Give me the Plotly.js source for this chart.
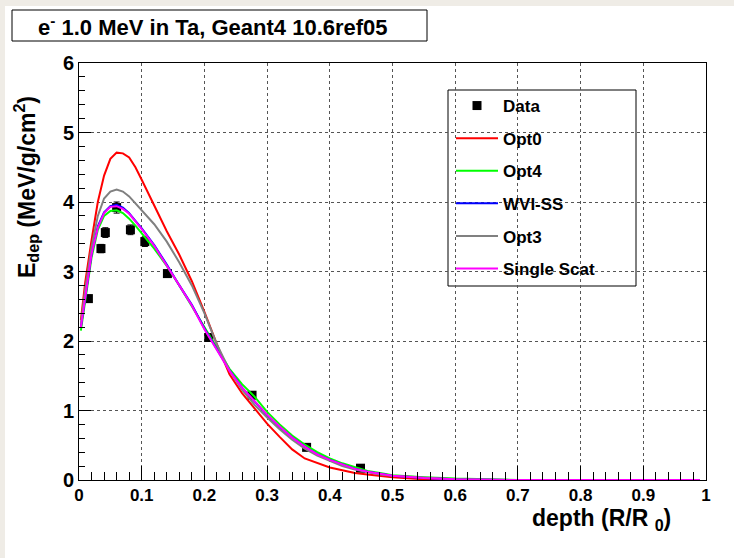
<!DOCTYPE html>
<html>
<head>
<meta charset="utf-8">
<script src="https://cdn.plot.ly/plotly-3.0.1.min.js"></script>
<style>
  html, body { margin: 0; padding: 0; background: #efece6; width: 734px; height: 558px; overflow: hidden; }
  #chart { position: absolute; left: 5px; top: 6px; width: 729px; height: 552px; }
</style>
</head>
<body>
<div id="chart"></div>
<script>
// ---- Data ----
const dataX   = [0.015, 0.035, 0.042, 0.060, 0.082, 0.105, 0.141, 0.207, 0.276, 0.363, 0.449];
const dataY   = [2.61, 3.33, 3.56, 3.92, 3.60, 3.43, 2.97, 2.05, 1.22, 0.47, 0.17];
const dataErr = [0.05, 0.06, 0.07, 0.08, 0.07, 0.07, 0.05, 0.05, 0.04, 0.03, 0.02];

const simX = [0.003, 0.01, 0.02, 0.03, 0.04, 0.05, 0.06, 0.07, 0.08, 0.09, 0.10,
              0.12, 0.14, 0.16, 0.18, 0.20, 0.22, 0.24, 0.26, 0.28, 0.30,
              0.32, 0.34, 0.36, 0.38, 0.40, 0.42, 0.44, 0.46, 0.48, 0.50,
              0.55, 0.60, 0.70, 0.80, 0.90, 0.99];
const opt0  = [2.30, 2.85, 3.45, 4.00, 4.38, 4.62, 4.71, 4.70, 4.64, 4.50, 4.32,
               3.95, 3.58, 3.24, 2.86, 2.42, 1.95, 1.52, 1.25, 1.03, 0.81,
               0.62, 0.44, 0.31, 0.24, 0.18, 0.14, 0.10, 0.08, 0.06, 0.04,
               0.01, 0.00, 0.00, 0.00, 0.00, 0.00];
const opt4  = [2.15, 2.60, 3.20, 3.60, 3.80, 3.87, 3.88, 3.84, 3.76, 3.66, 3.55,
               3.33, 3.08, 2.80, 2.50, 2.20, 1.90, 1.60, 1.38, 1.20, 0.98,
               0.80, 0.64, 0.51, 0.40, 0.31, 0.24, 0.18, 0.13, 0.10, 0.07,
               0.04, 0.02, 0.00, 0.00, 0.00, 0.00];
const wvi   = [2.20, 2.65, 3.25, 3.65, 3.85, 3.94, 3.96, 3.92, 3.84, 3.73, 3.62,
               3.38, 3.10, 2.80, 2.52, 2.18, 1.88, 1.58, 1.33, 1.13, 0.93,
               0.76, 0.61, 0.48, 0.37, 0.29, 0.22, 0.16, 0.12, 0.09, 0.06,
               0.03, 0.01, 0.00, 0.00, 0.00, 0.00];
const opt3  = [2.25, 2.75, 3.35, 3.80, 4.05, 4.15, 4.18, 4.15, 4.08, 3.98, 3.88,
               3.68, 3.43, 3.13, 2.80, 2.40, 1.95, 1.58, 1.30, 1.08, 0.90,
               0.73, 0.58, 0.45, 0.35, 0.27, 0.20, 0.15, 0.11, 0.08, 0.06,
               0.03, 0.01, 0.00, 0.00, 0.00, 0.00];
const single = [2.20, 2.65, 3.25, 3.63, 3.84, 3.93, 3.94, 3.90, 3.83, 3.72, 3.61,
               3.37, 3.09, 2.80, 2.51, 2.17, 1.87, 1.57, 1.33, 1.14, 0.94,
               0.77, 0.61, 0.48, 0.37, 0.29, 0.22, 0.16, 0.12, 0.09, 0.06,
               0.03, 0.01, 0.00, 0.00, 0.00, 0.00];

const seriesNames  = ['Data', 'Opt0', 'Opt4', 'WVI-SS', 'Opt3', 'Single Scat'];
const seriesColors = ['#000000', '#ff0000', '#00ff00', '#0000ff', '#808080', '#ff00ff'];
const xTickVals = [0, 0.1, 0.2, 0.3, 0.4, 0.5, 0.6, 0.7, 0.8, 0.9, 1];
const xTickText = ['0', '0.1', '0.2', '0.3', '0.4', '0.5', '0.6', '0.7', '0.8', '0.9', '1'];
const yTickVals = [0, 1, 2, 3, 4, 5, 6];
const yTickText = ['0', '1', '2', '3', '4', '5', '6'];

const FONT = 'Liberation Sans, Arial, Helvetica, sans-serif';

const curves = [opt0, opt4, wvi, opt3, single];
const traces = [{
  x: dataX, y: dataY, type: 'scatter', mode: 'markers', name: seriesNames[0],
  legendgroup: 'g0',
  marker: { symbol: 'square', size: 9, color: seriesColors[0] },
  error_y: { type: 'data', array: dataErr, visible: true, color: '#000', thickness: 1, width: 3 }
}];
curves.forEach((c, i) => {
  traces.push({
    x: simX, y: c, type: 'scatter', mode: 'lines', name: seriesNames[i + 1],
    legendgroup: 'g' + (i + 1),
    line: { color: seriesColors[i + 1], width: 2 }
  });
});

// pixel helpers (page px -> paper coords of plot area 79..706 x 63..480)
const px = p => (p - 79) / 627;
const py = p => (480 - p) / 417;

const layout = {
  width: 729, height: 552,
  margin: { l: 74, r: 28, t: 57, b: 78, pad: 0 },
  paper_bgcolor: '#ffffff', plot_bgcolor: '#ffffff',
  font: { family: FONT, color: '#000' },
  showlegend: true,
  legend: {
    x: px(451), y: py(88), xanchor: 'left', yanchor: 'top',
    bgcolor: 'rgba(0,0,0,0)', borderwidth: 0,
    font: { family: FONT, size: 17, weight: 'bold', color: '#000' },
    tracegroupgap: 7.5, itemwidth: 42, traceorder: 'grouped'
  },
  xaxis: {
    range: [0, 1], tickvals: xTickVals, ticktext: xTickText,
    ticks: 'inside', ticklen: 14, tickwidth: 1, tickcolor: '#000',
    showline: true, linecolor: '#000', linewidth: 1, mirror: true,
    showgrid: true, gridcolor: '#555', griddash: 'dot', gridwidth: 1,
    zeroline: false,
    tickfont: { family: FONT, size: 17, weight: 'bold', color: '#000' },
    minor: { dtick: 0.02, tick0: 0, ticks: 'inside', ticklen: 8, tickcolor: '#000', showgrid: false }
  },
  yaxis: {
    range: [0, 6], tickvals: yTickVals, ticktext: yTickText,
    ticks: 'inside', ticklen: 12, tickwidth: 1, tickcolor: '#000',
    showline: true, linecolor: '#000', linewidth: 1, mirror: true,
    showgrid: true, gridcolor: '#555', griddash: 'dot', gridwidth: 1,
    zeroline: false,
    tickfont: { family: FONT, size: 20, weight: 'bold', color: '#000' },
    minor: { dtick: 0.2, tick0: 0, ticks: 'inside', ticklen: 6, tickcolor: '#000', showgrid: false }
  },
  shapes: [
    // title box
    { type: 'rect', xref: 'paper', yref: 'paper', x0: px(12), x1: px(427), y0: py(41), y1: py(10),
      line: { color: '#000', width: 1 }, fillcolor: '#fff', layer: 'above' },
    // legend box
    { type: 'rect', xref: 'paper', yref: 'paper', x0: px(448), x1: px(636), y0: py(286), y1: py(90),
      line: { color: '#000', width: 1 }, fillcolor: '#fff', layer: 'below' }
  ],
  annotations: [
    { text: 'e<sup>-</sup> 1.0 MeV in Ta, Geant4 10.6ref05', xref: 'paper', yref: 'paper',
      x: px(213), y: py(26), xanchor: 'center', yanchor: 'middle', showarrow: false,
      font: { family: FONT, size: 22, weight: 'bold', color: '#000' } },
    { text: 'E<sub>dep</sub> (MeV/g/cm<sup>2</sup>)', xref: 'paper', yref: 'paper',
      x: px(26), y: py(187), xanchor: 'center', yanchor: 'middle', showarrow: false, textangle: -90,
      font: { family: FONT, size: 23, weight: 'bold', color: '#000' } },
    { text: 'depth (R/R <sub>0</sub>)', xref: 'paper', yref: 'paper',
      x: px(673), y: py(519), xanchor: 'right', yanchor: 'middle', showarrow: false,
      font: { family: FONT, size: 23, weight: 'bold', color: '#000' } }
  ]
};

Plotly.newPlot('chart', traces, layout, { displayModeBar: false, staticPlot: true });
</script>
</body>
</html>
